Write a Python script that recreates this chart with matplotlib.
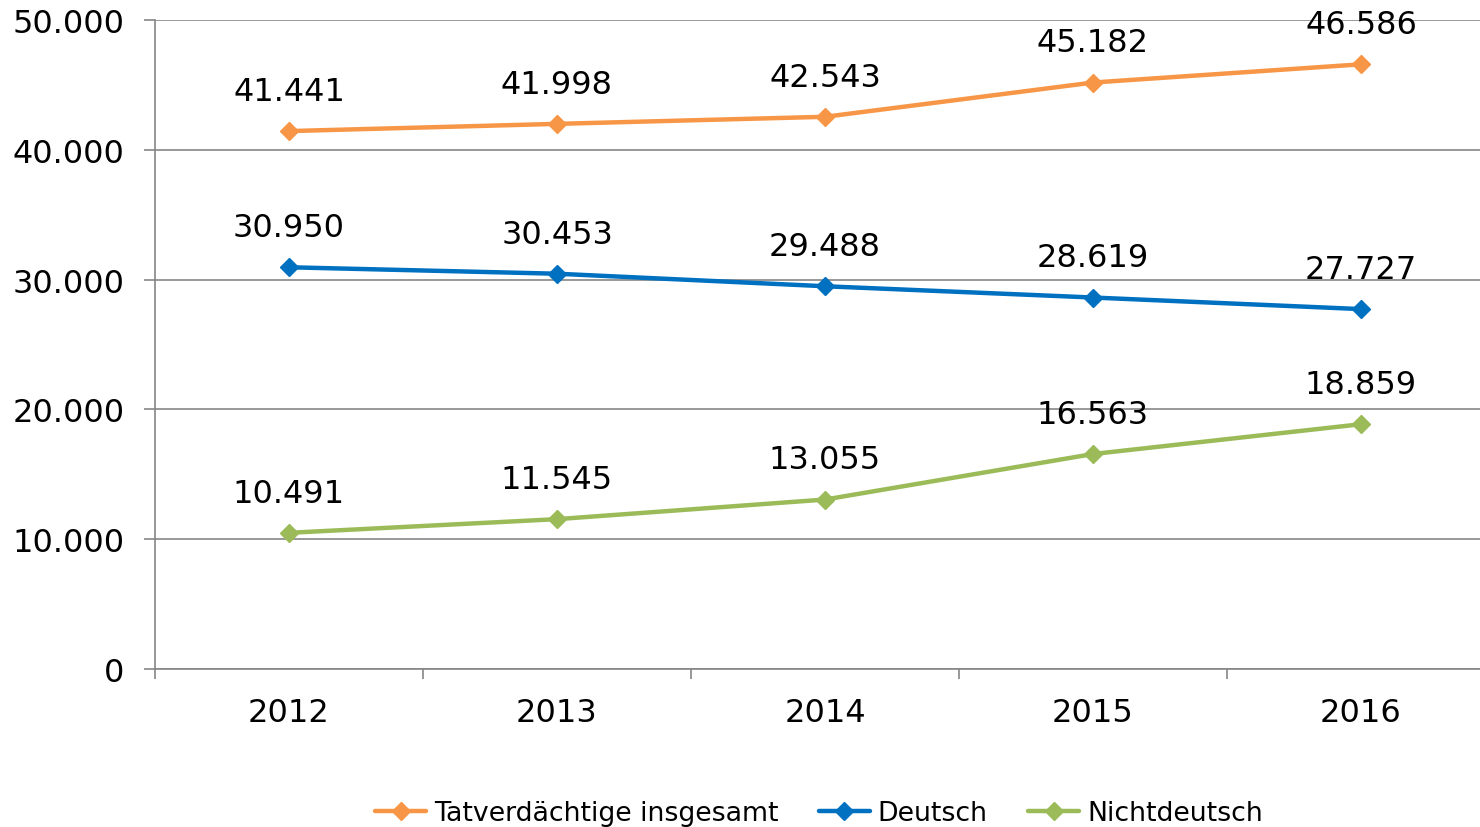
import matplotlib
matplotlib.use("Agg")
import matplotlib.pyplot as plt
from matplotlib.ticker import FixedLocator, NullFormatter

years = ["2012", "2013", "2014", "2015", "2016"]
gesamt = [41441, 41998, 42543, 45182, 46586]
deutsch = [30950, 30453, 29488, 28619, 27727]
nichtdeutsch = [10491, 11545, 13055, 16563, 18859]
series_names = ["Tatverdächtige insgesamt", "Deutsch", "Nichtdeutsch"]
colors = ["#F79646", "#0070C0", "#9BBB59"]
yticks = [0, 10000, 20000, 30000, 40000, 50000]

def de_fmt(v):
    return f"{v:,}".replace(",", ".")

plt.rcParams['font.family'] = ['DejaVu Sans']
fig = plt.figure(figsize=(14.8, 8.28), dpi=100)
ax = fig.add_axes([155/1480, 1-670/828, 1340/1480, 649/828])

x = list(range(len(years)))
for name, vals, c in zip(series_names, [gesamt, deutsch, nichtdeutsch], colors):
    ax.plot(x, vals, color=c, lw=3.2, marker='D', markersize=9.5, label=name,
            solid_capstyle='round', zorder=3, clip_on=False)
    for xi, v in zip(x, vals):
        ax.annotate(de_fmt(v), (xi, v), xytext=(0, 28.5), textcoords='offset points',
                    ha='center', va='center', fontsize=23, color='black', zorder=4)

ax.set_xlim(-0.5, 4.5)
ax.set_ylim(0, 50000)
ax.set_yticks(yticks)
ax.set_yticklabels([de_fmt(v) for v in yticks], fontsize=23)
ax.set_xticks(x)
ax.set_xticklabels(years, fontsize=23)
ax.xaxis.set_minor_locator(FixedLocator([-0.5, 0.5, 1.5, 2.5, 3.5]))
ax.xaxis.set_minor_formatter(NullFormatter())
ax.tick_params(axis='x', which='major', length=0, pad=20)
ax.tick_params(axis='x', which='minor', length=7.5, width=1.2, color='#868686', direction='out')
ax.tick_params(axis='y', length=8, width=1.2, color='#868686', pad=14, direction='out')
ax.grid(axis='y', color='#868686', lw=1.2, zorder=0)
for s in ['top', 'right']:
    ax.spines[s].set_visible(False)
for s in ['left', 'bottom']:
    ax.spines[s].set_color('#868686')
    ax.spines[s].set_linewidth(1.2)

leg = fig.legend(loc='center', bbox_to_anchor=(819/1480, 1-814/828), ncol=3, frameon=False,
                 fontsize=19.3, handlelength=1.9, handletextpad=0.3, columnspacing=1.5,
                 numpoints=1)

fig.savefig("out.png", dpi=100)
